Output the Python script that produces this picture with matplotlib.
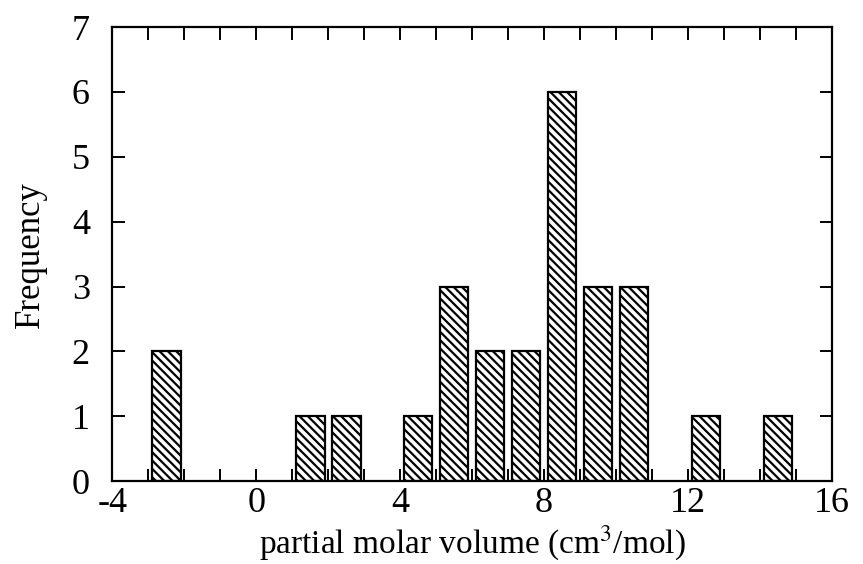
import numpy as np
import matplotlib.pyplot as plt
from matplotlib.ticker import MultipleLocator

plt.rcParams['font.family'] = ['Liberation Serif', 'DejaVu Serif']
plt.rcParams['hatch.linewidth'] = 1.6
plt.rcParams['mathtext.fontset'] = 'stix'
plt.rcParams['axes.unicode_minus'] = False

# bin centres (cm^3/mol) and counts
bin_centers = [-2.5, 1.5, 2.5, 4.5, 5.5, 6.5, 7.5, 8.5, 9.5, 10.5, 12.5, 14.5]
counts = [2, 1, 1, 1, 3, 2, 2, 6, 3, 3, 1, 1]
x_ticks = [-4, 0, 4, 8, 12, 16]
y_ticks = [0, 1, 2, 3, 4, 5, 6, 7]

fig = plt.figure(figsize=(8.63, 5.64), dpi=100)
ax = fig.add_axes([0.130, 0.147, 0.834, 0.805])

ax.bar(bin_centers, counts, width=0.8, color='white', edgecolor='black',
       linewidth=1.6, hatch='\\\\\\\\')

ax.set_xlim(-4, 16)
ax.set_ylim(0, 7)
ax.set_xticks(x_ticks)
ax.set_yticks(y_ticks)
ax.xaxis.set_minor_locator(MultipleLocator(1))

ax.tick_params(which='both', direction='in', top=True, right=True,
               length=9, width=1.4, labelsize=26)
ax.tick_params(axis='x', pad=4)
ax.tick_params(axis='y', pad=16)
for s in ax.spines.values():
    s.set_linewidth(1.6)

ax.set_xlabel('partial molar volume (cm$^3$/mol)', fontsize=24, labelpad=3)
ax.set_ylabel('Frequency', fontsize=25, labelpad=18)

fig.savefig('out.png', dpi=100)
